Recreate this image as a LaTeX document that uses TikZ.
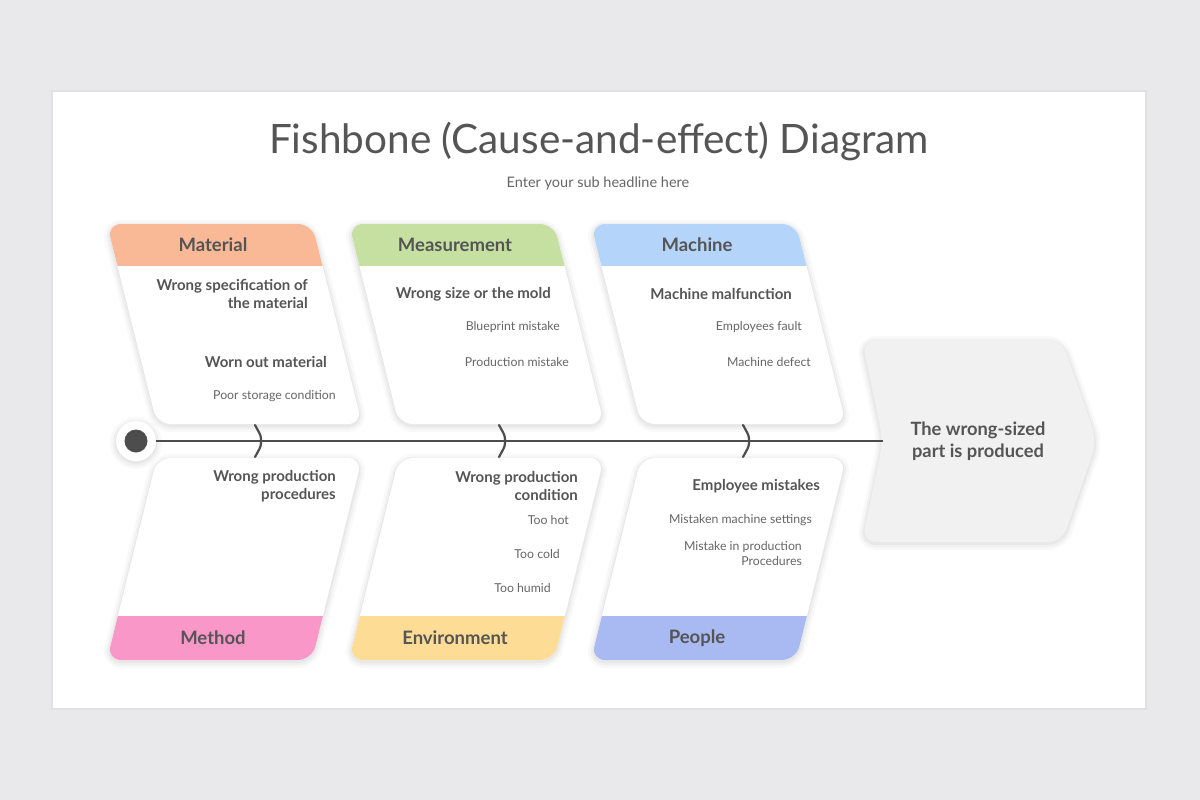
\documentclass[tikz,border=0pt]{standalone}
\usepackage{fontspec}
\setmainfont{Lato}

\definecolor{bgGray}{HTML}{E9E8EA}
\definecolor{txtGray}{HTML}{555555}
\definecolor{subGray}{HTML}{666666}
\definecolor{lineGray}{HTML}{4D4D4D}
\definecolor{effectFill}{HTML}{F1F1F1}
\definecolor{cMaterial}{HTML}{F9B996}
\definecolor{cMeasure}{HTML}{C5E0A0}
\definecolor{cMachine}{HTML}{B4D5F9}
\definecolor{cMethod}{HTML}{F998C8}
\definecolor{cEnviron}{HTML}{FDDC95}
\definecolor{cPeople}{HTML}{A9B9F2}

\tikzset{
  softshadow/.style={
    preaction={draw=black, draw opacity=0.025, line width=12pt, line join=round, transform canvas={yshift=-2pt}},
    preaction={draw=black, draw opacity=0.03, line width=7pt, line join=round, transform canvas={yshift=-2pt}},
    preaction={draw=black, draw opacity=0.035, line width=3pt, line join=round, transform canvas={yshift=-1.5pt}}},
  card/.style={fill=white, rounded corners=14pt, softshadow},
  headtext/.style={font=\bfseries\fontsize{18.5}{22}\selectfont, text=txtGray, inner sep=0pt},
  cause/.style={anchor=east, align=right, font=\bfseries\fontsize{15}{18}\selectfont, text=txtGray, inner sep=0pt},
  subcause/.style={anchor=east, align=right, font=\fontsize{12.3}{15}\selectfont, text=subGray, inner sep=0pt},
  spine/.style={draw=lineGray, line width=2.6pt},
  bonetick/.style={draw=lineGray, line width=2.2pt, rounded corners=3pt, line cap=round},
}

\begin{document}
\begin{tikzpicture}[x=1pt,y=1pt,yscale=-1,xscale=1]

  % Background and slide
  \fill[bgGray] (0,0) rectangle (1200,800);
  \fill[white, preaction={draw=black, draw opacity=0.03, line width=4pt}] (53,92) rectangle (1145,708);

  % Title
  \node[font=\fontsize{40.5}{46}\selectfont, text=txtGray] (title) at (599,141) {Fishbone (Cause-and-effect) Diagram};
  \node[font=\fontsize{14.5}{17}\selectfont, text=subGray] (subtitle) at (598,183) {Enter your sub headline here};

  % Upper cards
  \foreach \dx/\col in {0/cMaterial,242/cMeasure,484/cMachine}{
    \path[card] (107+\dx,224) -- (312+\dx,224) -- (362+\dx,424) -- (157+\dx,424) -- cycle;
    \begin{scope}
      \clip[rounded corners=14pt] (107+\dx,224) -- (312+\dx,224) -- (362+\dx,424) -- (157+\dx,424) -- cycle;
      \fill[\col] (95+\dx,215) rectangle (345+\dx,266);
    \end{scope}
  }

  % Lower cards
  \foreach \dx/\col in {0/cMethod,242/cEnviron,484/cPeople}{
    \path[card] (157+\dx,458) -- (362+\dx,458) -- (312+\dx,660) -- (107+\dx,660) -- cycle;
    \begin{scope}
      \clip[rounded corners=14pt] (157+\dx,458) -- (362+\dx,458) -- (312+\dx,660) -- (107+\dx,660) -- cycle;
      \fill[\col] (95+\dx,616) rectangle (345+\dx,670);
    \end{scope}
  }

  % Effect head
  \path[fill=effectFill, rounded corners=14pt, softshadow] (862,340) -- (1062,340) -- (1097,441) -- (1062,542) -- (862,542) -- (883,441) -- cycle;
  \coordinate (notch) at (883,441);
  \node[font=\bfseries\fontsize{18.3}{22}\selectfont, text=txtGray, align=center] (effect) at (978,441) {The wrong-sized\\part is produced};

  % Tail circle and spine
  \node[circle, fill=white, minimum size=40pt, inner sep=0pt, softshadow] (halo) at (136,441) {};
  \node[circle, fill=lineGray, minimum size=23pt, inner sep=0pt] (dot) at (136,441) {};
  \draw[spine] (halo) -- (notch);
  \foreach \cx in {258,502,746}
    \draw[bonetick] (\cx-3,425) -- (\cx+3,436) -- (\cx+3,446) -- (\cx-3,457);

  % Header texts
  \node[headtext] (material) at (213,245) {Material};
  \node[headtext] (measurement) at (455,245) {Measurement};
  \node[headtext] (machine) at (697,245) {Machine};
  \node[headtext] (method) at (213,638) {Method};
  \node[headtext] (environment) at (455,638) {Environment};
  \node[headtext] (people) at (697,638) {People};

  % Material
  \node[cause] (mat1) at (308,294) {Wrong specification of\\the material};
  \node[cause] (mat2) at (327,362) {Worn out material};
  \node[subcause] (mat3) at (336,396) {Poor storage condition};
  % Measurement
  \node[cause] (mea1) at (551,294) {Wrong size or the mold};
  \node[subcause] (mea2) at (560,327) {Blueprint mistake};
  \node[subcause] (mea3) at (569,362) {Production mistake};
  % Machine
  \node[cause] (mac1) at (792,294) {Machine malfunction};
  \node[subcause] (mac2) at (802,327) {Employees fault};
  \node[subcause] (mac3) at (811,362) {Machine defect};
  % Method
  \node[cause] (met1) at (336,486) {Wrong production\\procedures};
  % Environment
  \node[cause] (env1) at (578,486) {Wrong production\\condition};
  \node[subcause] (env2) at (569,520) {Too hot};
  \node[subcause] (env3) at (560,554) {Too cold};
  \node[subcause] (env4) at (551,588) {Too humid};
  % People
  \node[cause] (peo1) at (820,486) {Employee mistakes};
  \node[subcause] (peo2) at (812,520) {Mistaken machine settings};
  \node[subcause] (peo3) at (802,554) {Mistake in production\\Procedures};

\end{tikzpicture}
\end{document}
